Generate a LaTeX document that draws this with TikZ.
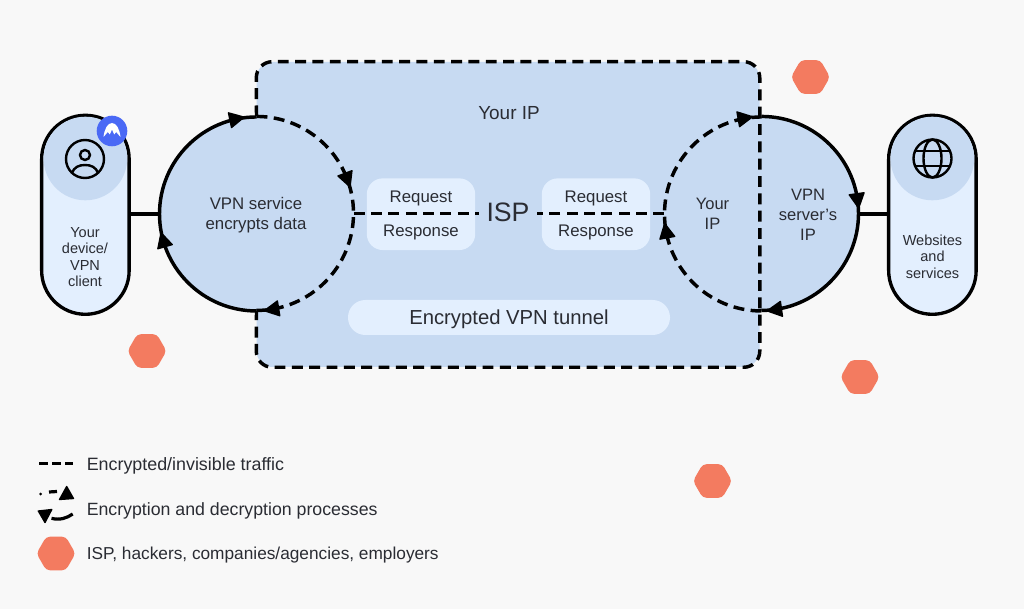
\documentclass[tikz,border=0pt]{standalone}
\usepackage{fontspec}
\setmainfont{Liberation Sans}
\usetikzlibrary{calc,shapes.geometric}
\definecolor{bgc}{HTML}{F8F8F8}
\definecolor{tun}{HTML}{C7DAF2}
\definecolor{lite}{HTML}{E3EFFE}
\definecolor{hexc}{HTML}{F37B60}
\definecolor{badge}{HTML}{4A69F5}
\definecolor{ink}{HTML}{2A2C33}
\newcommand{\tiphead}[2]{%
  \filldraw[black,line width=1pt,line join=round]
    ($(#1)+(#2:97)+(#2-90:8)$) -- ($(#1)+(#2:97)+(#2-90:-6.5)+(#2:7.5)$) -- ($(#1)+(#2:97)+(#2-90:-6.5)+(#2:-7.5)$) -- cycle;}
\tikzset{
  x=0.75pt,y=0.75pt,
  every node/.style={text=ink},
  ring/.style={circle,inner sep=0pt,minimum size=194*0.75pt,fill=tun},
  pill/.style={rectangle,draw=black,line width=2.5pt,fill=lite,rounded corners=32.8pt,outer sep=0pt,minimum width=87.5*0.75pt,minimum height=199*0.75pt,inner sep=0pt},
  innerbox/.style={rectangle,fill=lite,rounded corners=12pt,minimum width=108.4*0.75pt,minimum height=71.7*0.75pt,inner sep=0pt},
  hexa/.style={regular polygon,regular polygon sides=6,fill=hexc,rounded corners=3pt,inner sep=0pt,minimum size=39*0.75pt},
  thick line/.style={line width=2.6pt,black},
  connector/.style={line width=3pt,black},
  dashline/.style={line width=2.6pt,black,dash pattern=on 8.2pt off 4.8pt},
  icon/.style={line width=1.8pt,black},
  small/.style={align=center,font=\fontsize{10.9pt}{12.4pt}\selectfont},
  mid/.style={align=center,font=\fontsize{12.6pt}{15.4pt}\selectfont},
  legend/.style={anchor=west,inner sep=0pt},
}
\begin{document}
\begin{tikzpicture}
\useasboundingbox (0,0) rectangle (1024,-609);
\fill[bgc] (0,0) rectangle (1024,-609);
% tunnel and rings
\node[rectangle,fill=tun,rounded corners=12pt,minimum width=503*0.75pt,minimum height=305*0.75pt,inner sep=0pt] (tunnel) at (508,-214.5) {};
\node[ring] (lc) at (256.5,-213.7) {};
\node[ring] (rc) at (761.5,-213.7) {};
% pills
\node[pill] (client) at (85.4,-214.8) {};
\node[pill] (sites) at (932.4,-214.8) {};
\fill[tun] (85.4,-158.5) circle (41.8);
\fill[tun] (932.4,-158.5) circle (41.8);
% inner boxes
\node[innerbox] (bl) at (421,-214.2) {};
\node[innerbox] (br) at (596,-214.2) {};
\node[rectangle,fill=lite,rounded corners=13pt,minimum width=322*0.75pt,minimum height=35*0.75pt,inner sep=0pt] (tunbox) at (509,-317.5) {};
% tunnel outline
\draw[dashline,rounded corners=12pt] (lc.north) -- (tunnel.north west) -- (tunnel.north east) -- (tunnel.south east) -- (tunnel.south west) -- (lc.south);
% rings
\draw[thick line] (lc.south) arc (270:90:97);
\draw[dashline] (lc.north) arc (90:-90:97);
\draw[dashline] (rc.south) arc (270:90:97);
\draw[thick line] (rc.north) arc (90:-90:97);
\tiphead{lc.center}{102}
\tiphead{lc.center}{20.7}
\tiphead{lc.center}{-80.7}
\tiphead{lc.center}{-164}
\tiphead{rc.center}{100}
\tiphead{rc.center}{8}
\tiphead{rc.center}{-82}
\tiphead{rc.center}{-169.5}
% connectors
\draw[connector] (client.east |- lc.west) -- (lc.west);
\draw[connector] (rc.east) -- (sites.west |- rc.east);
\node[inner sep=0pt,minimum width=57*0.75pt,font=\fontsize{20pt}{22pt}\selectfont] (isp) at (508,-212.5) {ISP};
\draw[dashline] (lc.east) -- (lc.east -| isp.west);
\draw[dashline] (rc.west) -- (rc.west -| isp.east);
% person icon
\draw[icon] (85,-159) circle (19);
\draw[icon] (85,-155) circle (5);
\draw[icon] (71.7,-173.5) .. controls (74,-167) and (79,-165) .. (85,-165) .. controls (91,-165) and (96,-167) .. (98.3,-173.5);
% badge
\fill[badge] (112,-131) circle (15.3);
\fill[white] (103.5,-137) .. controls (104.5,-129) and (107.5,-123) .. (112,-123) .. controls (116.5,-123) and (119.5,-129) .. (120.5,-137) -- (116.2,-132) -- (114.2,-134.5) -- (112,-129.5) -- (109.8,-134.5) -- (107.8,-132) -- cycle;
% globe
\draw[icon] (932.5,-158.5) circle (19);
\draw[icon] (932.5,-158.5) ellipse (9 and 19);
\draw[icon] (915,-151) -- (950,-151);
\draw[icon] (915,-166) -- (950,-166);
% hexagons
\node[hexa] (h1) at (810.5,-77) {};
\node[hexa] (h2) at (147,-351) {};
\node[hexa] (h3) at (860,-377) {};
\node[hexa] (h4) at (712.5,-481) {};
\node[hexa] (h5) at (56,-553.5) {};
% texts
\node[small] (t1) at (85,-257) {Your\\device/\\VPN\\client};
\node[small] (t2) at (932.5,-256.7) {Websites\\and\\services};
\node[mid] (t3) at (256,-215) {VPN service\\encrypts data};
\node[font=\fontsize{14.2pt}{17pt}\selectfont] (t4) at (509,-113) {Your IP};
\node[mid] (t5) at (421,-198.5) {Request};
\node[mid] (t6) at (421,-232) {Response};
\node[mid] (t7) at (596,-198.5) {Request};
\node[mid] (t8) at (596,-232) {Response};
\node[mid,font=\fontsize{12.4pt}{15pt}\selectfont] (t9) at (712.5,-214) {Your\\IP};
\node[mid,font=\fontsize{12.4pt}{15pt}\selectfont] (t10) at (808,-214.8) {VPN\\server’s\\IP};
\node[font=\fontsize{15.2pt}{18pt}\selectfont] (t11) at (509,-319.5) {Encrypted VPN tunnel};
% legend
\coordinate (la) at (39,-463.5);
\coordinate (lb) at (73,-463.5);
\draw[line width=2.6pt,black,dash pattern=on 6.6pt off 3.2pt] (la) -- (lb);
\node[legend,font=\fontsize{13.4pt}{16pt}\selectfont] (l1) at (86.5,-465.5) {Encrypted/invisible traffic};
\fill[black] (40.7,-494) circle (1.5);
\coordinate (lc1) at (49,-492);
\coordinate (lc2) at (57,-491.5);
\draw[line width=2.4pt,black] (lc1) -- (lc2);
\filldraw[black,line width=1pt,line join=round] (66.7,-486.5) -- (59.5,-499.5) -- (73.5,-498.5) -- cycle;
\coordinate (ld1) at (51.5,-518.3);
\coordinate (ld2) at (72.7,-514);
\draw[line width=2.4pt,black] (ld1) .. controls (60,-520.5) and (67,-518) .. (ld2);
\filldraw[black,line width=1pt,line join=round] (38.3,-511) -- (51.8,-509.5) -- (45,-522.5) -- cycle;
\node[legend,font=\fontsize{13.3pt}{16pt}\selectfont] (l2) at (86.5,-510.5) {Encryption and decryption processes};
\node[legend,font=\fontsize{12.95pt}{16pt}\selectfont] (l3) at (86.5,-555.5) {ISP, hackers, companies/agencies, employers};
\end{tikzpicture}
\end{document}
